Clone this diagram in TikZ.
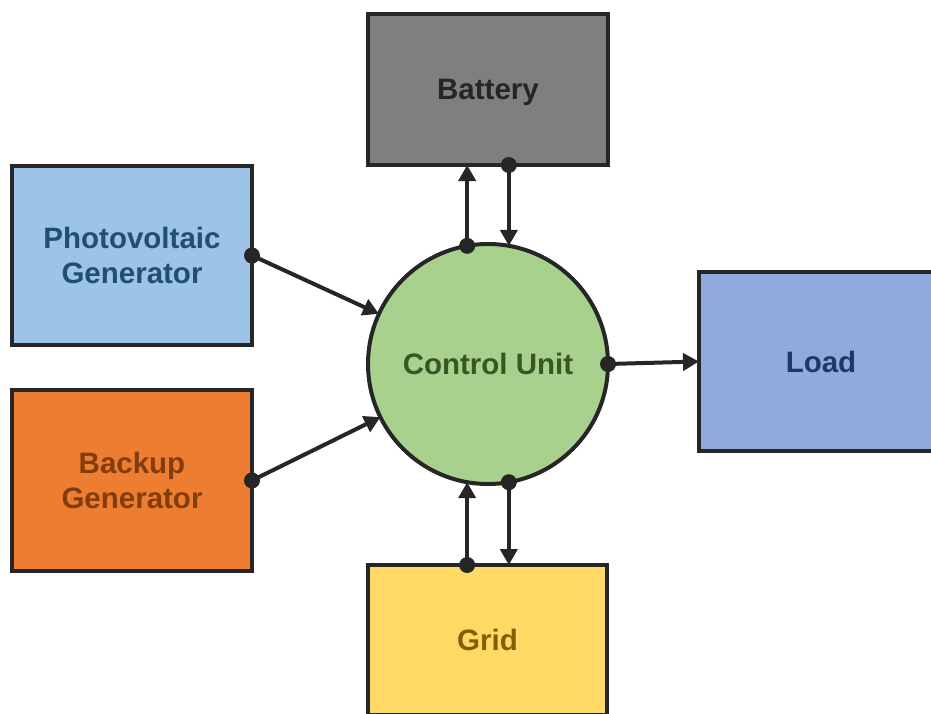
\documentclass[tikz,border=0pt]{standalone}
\usepackage{fontspec}
\setmainfont{Liberation Sans}
\usetikzlibrary{arrows.meta}
\definecolor{edge}{HTML}{262626}
\definecolor{batfill}{HTML}{7F7F7F}
\definecolor{battext}{HTML}{262626}
\definecolor{pvfill}{HTML}{9DC3E6}
\definecolor{pvtext}{HTML}{1F4E79}
\definecolor{bufill}{HTML}{ED7D31}
\definecolor{butext}{HTML}{843C0C}
\definecolor{loadfill}{HTML}{8FAADC}
\definecolor{loadtext}{HTML}{203864}
\definecolor{gridfill}{HTML}{FFD966}
\definecolor{gridtext}{HTML}{7F6000}
\definecolor{cufill}{HTML}{A9D18E}
\definecolor{cutext}{HTML}{385723}
\tikzset{
  blockbox/.style={draw=edge, line width=4pt, rectangle, inner sep=0pt, outer sep=0pt,
    align=center, font=\fontsize{29.5}{35}\selectfont\bfseries},
  conn/.style={draw=edge, line width=4pt, -{Triangle[length=16pt,width=17pt]}},
  dotmark/.style={fill=edge}
}
\begin{document}
\begin{tikzpicture}[x=1pt,y=-1pt]
\useasboundingbox (0,0) rectangle (931,713);
\node[blockbox, fill=batfill, minimum width=240pt, minimum height=151pt,
  label={[text=battext, font=\fontsize{29.5}{35}\selectfont\bfseries, yshift=-3pt]center:Battery}] (bat) at (488,89.5) {};
\node[blockbox, fill=pvfill, text=pvtext, minimum width=240pt, minimum height=179pt] (pv) at (132,255.5) {Photovoltaic\\Generator};
\node[blockbox, fill=bufill, text=butext, minimum width=240pt, minimum height=181pt] (bu) at (132,480.5) {Backup\\Generator};
\node[blockbox, fill=loadfill, text=loadtext, minimum width=244pt, minimum height=179pt] (load) at (821,361.5) {Load};
\node[blockbox, fill=gridfill, text=gridtext, minimum width=239pt, minimum height=150pt] (grid) at (487.5,640) {Grid};
\node[blockbox, circle, fill=cufill, text=cutext, minimum size=240pt] (cu) at (488,364) {Control Unit};

% battery
\draw[conn] (cu.100) -- (cu.100 |- bat.south);
\draw[conn] (bat.south -| cu.80) -- (cu.80);
\fill[dotmark] (cu.100) circle (8pt);
\fill[dotmark] (bat.south -| cu.80) circle (8pt);
% grid
\draw[conn] (grid.north -| cu.260) -- (cu.260);
\draw[conn] (cu.280) -- (cu.280 |- grid.north);
\fill[dotmark] (grid.north -| cu.260) circle (8pt);
\fill[dotmark] (cu.280) circle (8pt);
% generators
\draw[conn] (pv.east) -- (cu);
\fill[dotmark] (pv.east) circle (8pt);
\draw[conn] (bu.east) -- (cu);
\fill[dotmark] (bu.east) circle (8pt);
% load
\draw[conn] (cu.east) -- (load.west);
\fill[dotmark] (cu.east) circle (8pt);
\end{tikzpicture}
\end{document}
